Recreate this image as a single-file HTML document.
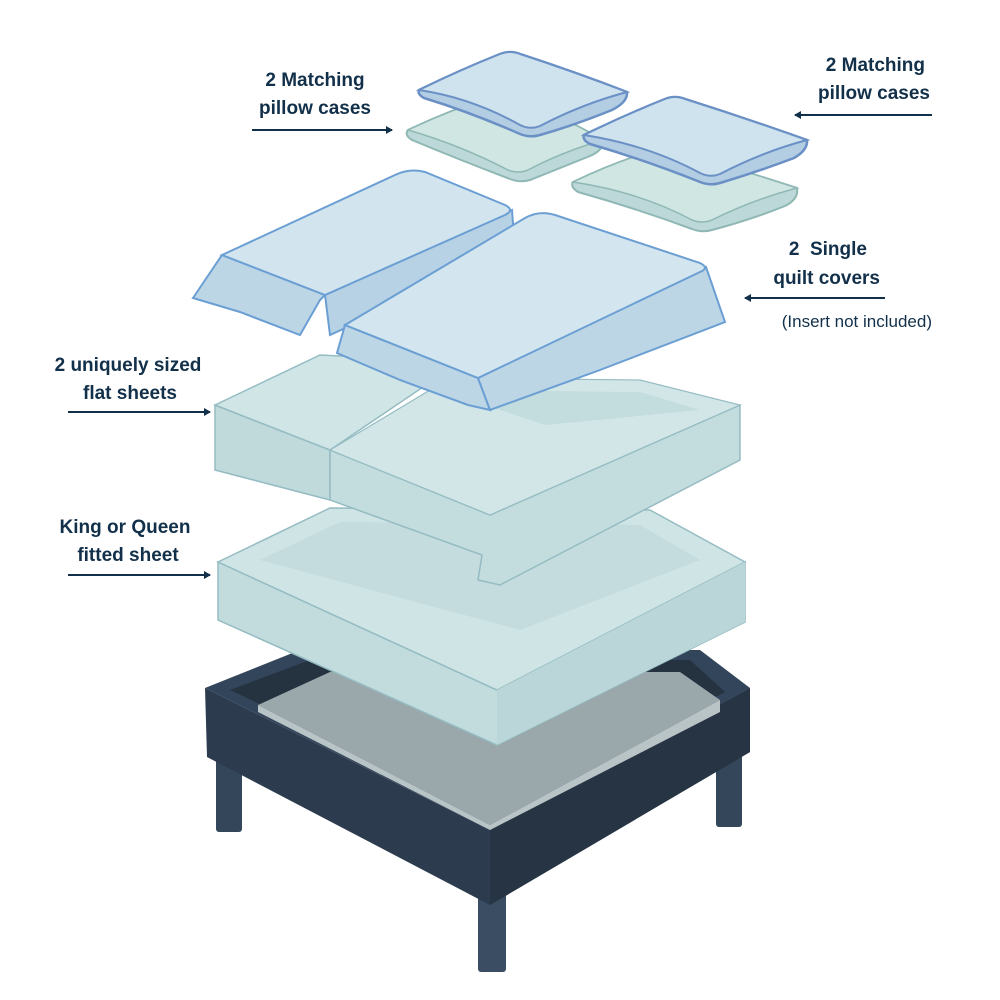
<!DOCTYPE html>
<html><head><style>
html,body{margin:0;padding:0;background:#fff;width:1000px;height:1000px;overflow:hidden}
svg{display:block}
text{font-family:"Liberation Sans",sans-serif;fill:#12304a}
.b{font-weight:bold;font-size:19px}
</style></head><body>
<svg width="1000" height="1000" viewBox="0 0 1000 1000">
<defs>
<marker id="ah" markerWidth="8" markerHeight="8" refX="6" refY="4" orient="auto" markerUnits="userSpaceOnUse"><path d="M0,0 L7,4 L0,8 Z" fill="#12304a"/></marker>
</defs>
<!-- legs -->
<rect x="216" y="740" width="26" height="92" rx="3" fill="#34465a"/>
<rect x="716" y="735" width="26" height="92" rx="3" fill="#34465a"/>
<rect x="478" y="870" width="28" height="102" rx="3" fill="#3a4d62"/>
<!-- frame -->
<polygon points="205,688 490,830 750,688 750,752 490,905 207,757" fill="#2c3b4e"/>
<polygon points="205,688 300,650 700,650 750,688 490,830" fill="#33455a"/>
<polygon points="490,830 750,688 750,752 490,905" fill="#263444"/>
<polygon points="230,690 310,660 690,660 725,692 490,812" fill="#25323f"/>
<polygon points="258,705 330,672 680,672 720,700 490,825" fill="#9aa7ab"/>
<polygon points="258,705 490,825 720,700 720,712 490,830 258,712" fill="#b9c4c6"/>
<!-- fitted sheet -->
<polygon points="218,562 497,690 745,562 745,622 497,745 218,620" fill="#c2dcde" stroke="#95bcc2" stroke-width="1.5"/>
<polygon points="218,562 330,508 650,510 745,562 497,690" fill="#cfe4e5" stroke="#95bcc2" stroke-width="1.5"/>
<polygon points="260,560 340,522 640,525 700,560 520,630" fill="#c4dcde"/>
<polygon points="497,690 745,562 745,622 497,745" fill="#bad6d8"/>
<!-- flat sheets -->
<polygon points="215,405 330,450 330,500 215,470" fill="#c0dadc" stroke="#95bcc2" stroke-width="1.5"/>
<polygon points="215,405 320,355 460,362 330,450" fill="#d0e5e6" stroke="#95bcc2" stroke-width="1.5"/>
<polygon points="330,450 490,515 740,405 740,460 500,585 478,580 482,555 330,500" fill="#c3dcde" stroke="#95bcc2" stroke-width="1.5"/>
<polygon points="330,450 450,378 640,380 740,405 490,515" fill="#d2e6e7" stroke="#95bcc2" stroke-width="1.2"/>
<polygon points="440,390 640,392 700,410 545,425" fill="#c3dcde"/>
<!-- quilt 1 -->
<polygon points="222,255 325,295 320,300 300,335 240,312 193,298" fill="#bcd6e6" stroke="#6b9fd4" stroke-width="2"/>
<polygon points="325,295 512,210 515,250 330,335" fill="#b7d2e4" stroke="#6b9fd4" stroke-width="2"/>
<path d="M222,255 L395,175 Q410,168 425,172 L505,205 Q515,210 505,215 L325,295 Z" fill="#d2e5ef" stroke="#6b9fd4" stroke-width="2"/>
<!-- quilt 2 -->
<polygon points="345,325 478,378 490,410 468,405 400,380 337,353" fill="#bcd6e6" stroke="#6b9fd4" stroke-width="2"/>
<polygon points="478,378 706,267 725,322 600,370 490,410" fill="#bcd6e6" stroke="#6b9fd4" stroke-width="2"/>
<path d="M345,325 L525,218 Q539,210 555,215 L700,263 Q710,268 700,272 L478,378 Z" fill="#d3e6ef" stroke="#6b9fd4" stroke-width="2"/>
<!-- pillows -->
<g stroke-width="2">
<!-- pillow 1 lower -->
<path d="M408,130 Q450,110 492,97 Q502,94 512,97 Q560,115 603,140 Q604,150 590,156 Q560,168 530,180 Q520,183 510,179 Q460,160 412,140 Q404,135 408,130Z" fill="#bdd8d8" stroke="#8fb8b5"/>
<path d="M408,130 Q450,110 492,97 Q502,94 512,97 Q560,115 603,140 Q562,152 528,170 Q518,174 508,170 Q460,145 408,130Z" fill="#cfe6e3" stroke="#8fb8b5" stroke-width="1.5"/>
<!-- pillow 1 upper -->
<path d="M419,90 Q460,70 500,54 Q510,50 520,54 Q575,72 627,92 Q628,102 612,110 Q575,125 540,135 Q530,138 520,134 Q470,112 424,98 Q417,94 419,90Z" fill="#b3cde3" stroke="#6a90c5" stroke-width="2.5"/>
<path d="M419,90 Q460,70 500,54 Q510,50 520,54 Q575,72 627,92 Q582,104 540,126 Q530,130 520,125 Q472,98 419,90Z" fill="#cfe3ef" stroke="#6a90c5" stroke-width="2"/>
<!-- pillow 2 lower -->
<path d="M573,182 Q615,162 655,150 Q665,147 675,150 Q735,168 797,188 Q799,199 785,206 Q750,220 712,230 Q702,233 692,229 Q635,208 578,192 Q570,187 573,182Z" fill="#bdd8d8" stroke="#8fb8b5"/>
<path d="M573,182 Q615,162 655,150 Q665,147 675,150 Q735,168 797,188 Q752,200 712,220 Q702,224 692,220 Q640,192 573,182Z" fill="#cfe6e3" stroke="#8fb8b5" stroke-width="1.5"/>
<!-- pillow 2 upper -->
<path d="M584,135 Q625,115 665,99 Q675,95 685,99 Q745,118 807,140 Q808,150 794,158 Q757,172 720,183 Q710,186 700,182 Q645,160 590,144 Q582,140 584,135Z" fill="#b3cde3" stroke="#6a90c5" stroke-width="2.5"/>
<path d="M584,135 Q625,115 665,99 Q675,95 685,99 Q745,118 807,140 Q762,152 720,174 Q710,178 700,173 Q648,145 584,135Z" fill="#cfe3ef" stroke="#6a90c5" stroke-width="2"/>
</g>
<!-- labels -->
<text class="b" x="315" y="86" text-anchor="middle">2 Matching</text>
<text class="b" x="315" y="114" text-anchor="middle">pillow cases</text>
<line x1="252" y1="130" x2="392" y2="130" stroke="#12304a" stroke-width="2" marker-end="url(#ah)"/>
<text class="b" x="925" y="71" text-anchor="end">2 Matching</text>
<text class="b" x="930" y="99" text-anchor="end">pillow cases</text>
<line x1="932" y1="115" x2="795" y2="115" stroke="#12304a" stroke-width="2" marker-end="url(#ah)"/>
<text class="b" x="867" y="255" text-anchor="end" xml:space="preserve">2  Single</text>
<text class="b" x="880" y="284" text-anchor="end">quilt covers</text>
<line x1="885" y1="298" x2="745" y2="298" stroke="#12304a" stroke-width="2" marker-end="url(#ah)"/>
<text x="932" y="327" text-anchor="end" font-size="17">(Insert not included)</text>
<text class="b" x="128" y="371" text-anchor="middle">2 uniquely sized</text>
<text class="b" x="130" y="399" text-anchor="middle">flat sheets</text>
<line x1="68" y1="412" x2="210" y2="412" stroke="#12304a" stroke-width="2" marker-end="url(#ah)"/>
<text class="b" x="125" y="533" text-anchor="middle">King or Queen</text>
<text class="b" x="128" y="561" text-anchor="middle">fitted sheet</text>
<line x1="68" y1="575" x2="210" y2="575" stroke="#12304a" stroke-width="2" marker-end="url(#ah)"/>
</svg>
</body></html>
